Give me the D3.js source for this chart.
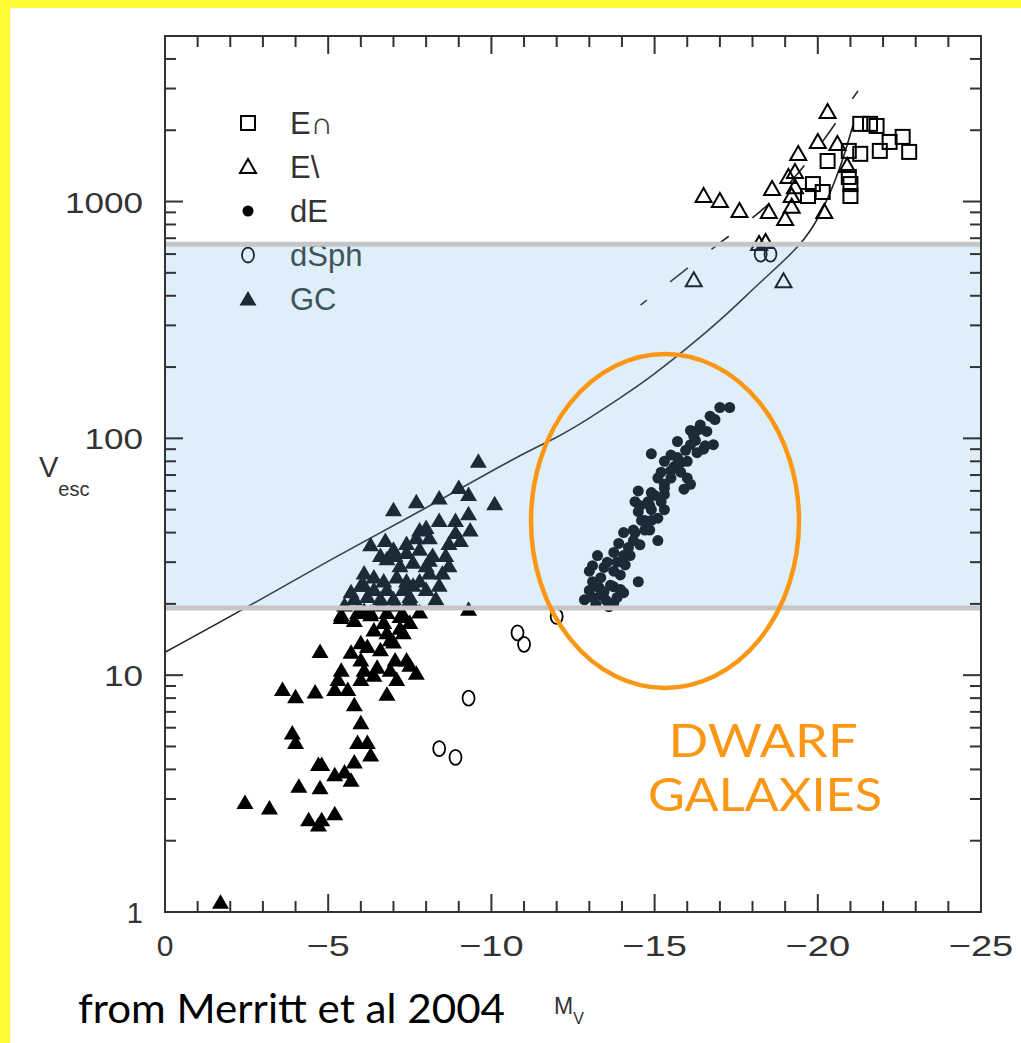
<!DOCTYPE html>
<html>
<head>
<meta charset="utf-8">
<script src="https://cdnjs.cloudflare.com/ajax/libs/d3/7.8.5/d3.min.js"></script>
<style>
  html, body { margin: 0; padding: 0; background: #fff; }
  svg { display: block; }
</style>
</head>
<body>
<div id="chart"></div>
<script>
// legend entries
var legendNames = ["E\u2229", "E\\", "dE", "dSph", "GC"];
var legendKinds = ["square", "otri", "dot", "circle", "tri"];

// axis ticks
var xTickLabels = [0, -5, -10, -15, -20, -25];
var yTickLabels = [1, 10, 100, 1000];

// shaded band (Vesc range)
var bandRange = [19.2, 660];

// [Mv, Vesc]
var gcPoints = [
  [-9.6, 80], [-7.0, 50], [-7.7, 54], [-8.4, 56], [-9.0, 62], [-9.3, 58], [-10.1, 53],
  [-9.3, 48], [-8.0, 42], [-8.9, 40], [-7.7, 38], [-8.1, 38], [-8.7, 36], [-7.0, 34],
  [-7.4, 33], [-7.8, 34], [-8.2, 32], [-6.8, 31], [-7.2, 29], [-7.6, 30], [-8.0, 29],
  [-8.5, 27], [-6.1, 27], [-6.4, 26], [-6.7, 25], [-7.1, 26], [-7.4, 25], [-7.8, 25],
  [-8.1, 27], [-6.1, 24], [-6.4, 23], [-6.8, 23], [-7.3, 23], [-7.6, 24], [-6.2, 21.5],
  [-6.6, 21], [-7.0, 21], [-7.5, 21.5], [-9.3, 19], [-5.4, 18], [-5.9, 18.4], [-6.3, 18.4],
  [-6.8, 18.4], [-7.3, 18], [-6.6, 32], [-7.4, 36], [-7.8, 41], [-8.4, 45], [-8.6, 32],
  [-8.0, 23], [-8.3, 21], [-5.8, 21], [-5.5, 19.8],
  [-6.3, 35.5], [-6.75, 37], [-7.05, 32], [-8.1, 30.6], [-8.4, 24], [-8.7, 29],
  [-8.9, 45], [-9.05, 37], [-9.35, 41], [-6.0, 24], [-5.7, 22.5], [-7.05, 19.8],
  [-7.5, 20.8], [-6.6, 19.8], [-6.1, 18.8], [-7.8, 18.5], [-7.2, 15.8], [-6.9, 14.1],
  [-6.4, 15.5], [-6.0, 11.6], [-6.4, 10], [-7.05, 11.6], [-7.5, 11],
  [-5.4, 17.5], [-5.8, 17], [-6.3, 18], [-6.7, 16.7], [-7.2, 17.7], [-7.5, 16.7],
  [-6.8, 15.1], [-7.3, 15.1], [-6.0, 13.7], [-4.75, 12.6], [-5.7, 12.5], [-6.2, 13.2],
  [-6.6, 12.8], [-7.0, 13.8], [-7.4, 11.6], [-5.4, 10.5], [-6.1, 10.5], [-6.5, 10.8],
  [-6.9, 10.5], [-7.7, 10.2], [-5.3, 9.6], [-6.0, 9.6], [-7.1, 9.6], [-3.6, 8.7],
  [-4.0, 8.1], [-4.6, 8.5], [-5.2, 8.7], [-5.6, 8.7], [-6.8, 8.3], [-5.8, 7.5],
  [-6.0, 6.3], [-3.9, 5.7], [-4.0, 5.2], [-5.9, 5.2], [-6.2, 5.2], [-6.3, 4.6],
  [-4.7, 4.2], [-4.8, 4.2], [-5.8, 4.3], [-5.2, 3.8], [-5.5, 3.9], [-5.7, 3.6],
  [-4.1, 3.4], [-4.75, 3.35], [-3.2, 2.75], [-2.45, 2.9], [-4.4, 2.45], [-4.7, 2.33],
  [-4.8, 2.45], [-5.2, 2.6], [-1.7, 1.1]
];

var dePoints = [
  [-17.0, 135], [-17.3, 135], [-16.7, 124], [-16.35, 109], [-16.6, 107], [-16.2, 102],
  [-16.8, 94], [-15.7, 97], [-16.1, 94], [-16.3, 87], [-16.5, 90], [-14.9, 86],
  [-15.3, 80], [-15.7, 83], [-16.0, 80], [-15.2, 72], [-15.6, 76], [-15.8, 72],
  [-15.1, 68], [-15.5, 68], [-16.0, 68], [-16.1, 64], [-15.3, 64], [-15.9, 61],
  [-14.5, 60], [-14.9, 59], [-15.3, 58], [-14.4, 54], [-14.8, 54], [-15.2, 54],
  [-14.5, 49], [-14.9, 50], [-15.3, 50], [-14.6, 45], [-14.9, 45], [-15.1, 46],
  [-14.4, 40], [-14.7, 41], [-14.05, 40], [-14.35, 37], [-15.1, 37], [-13.9, 36],
  [-14.2, 34.6], [-13.75, 33], [-14.05, 32], [-13.25, 32], [-13.55, 30], [-13.85, 30],
  [-13.1, 29], [-13.45, 28.5], [-13.75, 27.5], [-13.0, 27.5], [-13.35, 25.8], [-13.1, 24.8],
  [-14.5, 24.8], [-13.3, 23.4], [-13.75, 23.6], [-14.05, 22.3], [-13.1, 21.3], [-13.45, 22.5],
  [-13.85, 21.3], [-13.2, 19.9], [-13.6, 19.5], [-13.75, 20.2],
  [-13.35, 21.8], [-13.65, 24], [-13.95, 26.5], [-14.1, 29.2], [-14.25, 32], [-14.55, 35.5],
  [-14.7, 45], [-14.85, 52], [-15.0, 57.5], [-15.3, 61.5], [-15.5, 73], [-15.8, 79],
  [-15.95, 89], [-16.25, 98], [-16.4, 114], [-16.85, 120], [-16.55, 93], [-13.0, 22.8],
  [-12.85, 20.8], [-13.5, 20.8], [-13.95, 23], [-14.35, 41], [-14.85, 41], [-14.55, 52],
  [-15.5, 85], [-16.1, 108]
];

var dsphPoints = [
  [-10.8, 15.1], [-11.0, 13.5], [-12.0, 17.7], [-9.3, 8.0], [-8.4, 4.9], [-8.9, 4.5],
  [-18.25, 600], [-18.55, 600]
];

var ecorePoints = [
  [-21.3, 2128], [-21.6, 2128], [-21.8, 2085], [-22.2, 1785], [-22.6, 1875], [-21.9, 1636],
  [-22.8, 1620], [-20.95, 1636], [-21.3, 1590], [-20.3, 1483], [-20.95, 1270], [-21.0, 1185],
  [-21.0, 1055], [-19.85, 1185], [-20.15, 1097], [-19.7, 1055]
];

var ecuspPoints = [
  [-20.3, 2390], [-20.0, 1785], [-20.6, 1750], [-19.4, 1588], [-19.3, 1333], [-19.1, 1270],
  [-18.6, 1130], [-16.5, 1055], [-17.0, 1005], [-17.6, 912], [-18.5, 903], [-19.2, 1055],
  [-19.2, 950], [-19.0, 843], [-20.2, 903], [-20.9, 1413], [-18.95, 461], [-16.2, 465],
  [-19.3, 1150], [-18.2, 661], [-18.4, 674]
];

// fitted relation (solid) and dashed relation
var fitCurve = [
  [0, 12.5], [-2.39, 18.9], [-5.06, 30.8], [-7.82, 49.1], [-10.89, 85.6], [-11.89, 98.5],
  [-12.93, 119.6], [-13.94, 148], [-14.77, 176.5], [-15.93, 236], [-17.1, 322],
  [-18.23, 457], [-19.45, 643], [-20.07, 861], [-20.68, 1359], [-21.08, 2105]
];
var dashedCurve = [
  [-14.57, 365], [-15.86, 504], [-17.02, 674], [-18.19, 885], [-19.48, 1307], [-21.23, 2933]
];

var W = 1021, H = 1043;
var padL = 165, padR = 981, padT = 36, padB = 912;

var svg = d3.select("#chart").append("svg").attr("width", W).attr("height", H);

// yellow frame
svg.append("rect").attr("x", 0).attr("y", 0).attr("width", W).attr("height", 8).attr("fill", "#fdfd35");
svg.append("rect").attr("x", 0).attr("y", 0).attr("width", 10).attr("height", H).attr("fill", "#fdfd35");

var x = d3.scaleLinear().domain([0, -25]).range([padL, padR]);
var y = d3.scaleLog().domain([1, 5000]).range([padB, padT]);

var plot = svg.append("g");
var ink = "#222";
var labelFont = "'Liberation Sans', Arial, sans-serif";

// curves
var line = d3.line().x(function (d) { return x(d[0]); }).y(function (d) { return y(d[1]); }).curve(d3.curveBasis);
plot.append("path").attr("d", line(fitCurve)).attr("fill", "none").attr("stroke", ink).attr("stroke-width", 1.6);
plot.append("path").attr("d", line(dashedCurve)).attr("fill", "none").attr("stroke", ink).attr("stroke-width", 1.6)
  .attr("stroke-dasharray", "22,30").attr("stroke-dashoffset", 14);

// symbol painters
function drawMarker(g, kind, cx, cy) {
  if (kind === "square") {
    g.append("rect").attr("x", cx - 7).attr("y", cy - 7).attr("width", 14).attr("height", 14)
      .attr("fill", "none").attr("stroke", "#000").attr("stroke-width", 2);
  } else if (kind === "otri") {
    g.append("path").attr("d", "M" + cx + "," + (cy - 8) + "L" + (cx + 8) + "," + (cy + 6) + "L" + (cx - 8) + "," + (cy + 6) + "Z")
      .attr("fill", "none").attr("stroke", "#000").attr("stroke-width", 2);
  } else if (kind === "tri") {
    g.append("path").attr("d", "M" + cx + "," + (cy - 8) + "L" + (cx + 8.5) + "," + (cy + 6.5) + "L" + (cx - 8.5) + "," + (cy + 6.5) + "Z")
      .attr("fill", "#000");
  } else if (kind === "dot") {
    g.append("circle").attr("cx", cx).attr("cy", cy).attr("r", 5.5).attr("fill", "#000");
  } else if (kind === "circle") {
    g.append("ellipse").attr("cx", cx).attr("cy", cy).attr("rx", 6).attr("ry", 7.5)
      .attr("fill", "none").attr("stroke", "#000").attr("stroke-width", 1.8);
  }
}

function drawSeries(data, kind) {
  var g = plot.append("g");
  data.forEach(function (d) { drawMarker(g, kind, x(d[0]), y(d[1])); });
}

drawSeries(gcPoints, "tri");
drawSeries(dePoints, "dot");
drawSeries(dsphPoints, "circle");
drawSeries(ecuspPoints, "otri");
drawSeries(ecorePoints, "square");

// legend
var legend = plot.append("g");
legendNames.forEach(function (name, i) {
  var ly = 123 + i * 44;
  drawMarker(legend, legendKinds[i], 248, ly);
  legend.append("text").attr("x", 290).attr("y", ly + 11).attr("font-family", labelFont)
    .attr("font-size", 31).attr("fill", "#333").text(name);
});

// light blue band over everything in the plot
var bandTop = y(bandRange[1]), bandBot = y(bandRange[0]);
svg.append("rect").attr("x", padL).attr("y", bandTop).attr("width", padR - padL).attr("height", bandBot - bandTop)
  .attr("fill", "rgb(117,186,229)").attr("fill-opacity", 0.23);
[bandTop, bandBot].forEach(function (by) {
  svg.append("line").attr("x1", padL).attr("x2", padR).attr("y1", by).attr("y2", by)
    .attr("stroke", "#c6c6c6").attr("stroke-width", 5);
});

// frame and ticks
var axes = svg.append("g").attr("stroke", "#333").attr("stroke-width", 2);
axes.append("rect").attr("x", padL).attr("y", padT).attr("width", padR - padL).attr("height", padB - padT).attr("fill", "none");

d3.range(0, -26, -1).forEach(function (v) {
  var len = (v % 5 === 0) ? 18 : 11;
  axes.append("line").attr("x1", x(v)).attr("x2", x(v)).attr("y1", padT).attr("y2", padT + len);
  axes.append("line").attr("x1", x(v)).attr("x2", x(v)).attr("y1", padB).attr("y2", padB - len);
});

var yTicks = [];
[1, 10, 100, 1000].forEach(function (dec) {
  for (var k = 1; k <= 9; k++) {
    if (dec * k <= 5000) yTicks.push({ v: dec * k, major: k === 1 });
  }
});
yTicks.forEach(function (t) {
  var len = t.major ? 18 : 11;
  axes.append("line").attr("x1", padL).attr("x2", padL + len).attr("y1", y(t.v)).attr("y2", y(t.v));
  axes.append("line").attr("x1", padR).attr("x2", padR - len).attr("y1", y(t.v)).attr("y2", y(t.v));
});

// tick labels
var labels = svg.append("g").attr("font-family", labelFont).attr("fill", "#333");
yTickLabels.forEach(function (v) {
  var s = String(v);
  var t = labels.append("text").attr("x", 143).attr("y", y(v) + 11).attr("text-anchor", "end")
    .attr("font-size", 29).text(s);
  if (s.length > 1) t.attr("textLength", s.length * 19.5).attr("lengthAdjust", "spacingAndGlyphs");
});
xTickLabels.forEach(function (v) {
  var s = v === 0 ? "0" : "\u2212" + Math.abs(v);
  var t = labels.append("text").attr("x", x(v)).attr("y", 956).attr("text-anchor", "middle")
    .attr("font-size", 30).text(s);
  if (s.length > 1) t.attr("textLength", s.length * 21.5).attr("lengthAdjust", "spacingAndGlyphs");
});

// axis titles
var vlab = labels.append("text").attr("x", 39).attr("y", 477).attr("font-size", 29);
vlab.append("tspan").text("V");
vlab.append("tspan").attr("dy", 19).attr("font-size", 20).text("esc");
var mlab = labels.append("text").attr("x", 554).attr("y", 1014).attr("font-size", 23);
mlab.append("tspan").text("M");
mlab.append("tspan").attr("dy", 10).attr("font-size", 16).text("V");

// annotations
svg.append("ellipse").attr("cx", 665).attr("cy", 521).attr("rx", 134).attr("ry", 167)
  .attr("fill", "none").attr("stroke", "#fb9714").attr("stroke-width", 4.5);
var note = svg.append("g").attr("font-family", "Lato, 'Open Sans', sans-serif").attr("fill", "#fb9714")
  .attr("font-size", 47).attr("text-anchor", "middle");
note.append("text").attr("x", 763).attr("y", 757).attr("textLength", 189).attr("lengthAdjust", "spacingAndGlyphs").text("DWARF");
note.append("text").attr("x", 765).attr("y", 811).attr("textLength", 234).attr("lengthAdjust", "spacingAndGlyphs").text("GALAXIES");

svg.append("text").attr("x", 78).attr("y", 1023).attr("font-family", "Lato, 'Open Sans', sans-serif")
  .attr("font-size", 40).attr("fill", "#000").attr("textLength", 427).attr("lengthAdjust", "spacingAndGlyphs")
  .text("from Merritt et al 2004");
</script>
</body>
</html>
